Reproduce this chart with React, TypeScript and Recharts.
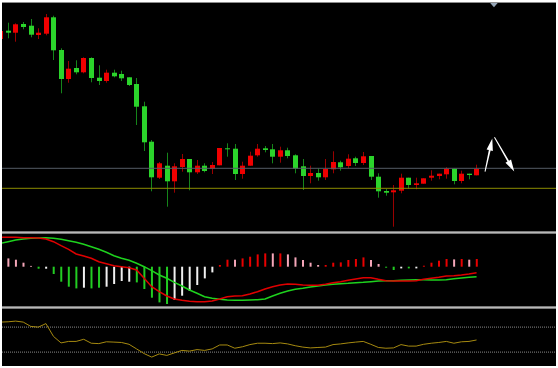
import React from 'react';
import { ComposedChart, Bar, Line, XAxis, YAxis, ReferenceLine, ReferenceDot, Cell } from 'recharts';

// ---- price candles (bar index 0..63) ----
const opens = [201, 209.3, 207.3, 216, 214.3, 205, 206.3, 222.7, 190, 161, 172, 167.7, 182, 162.3, 159, 167.3, 166, 162.7, 156, 133.7, 98.3, 62.3, 74.3, 58.7, 73, 81, 67.7, 74.3, 71.3, 74.7, 91.7, 91.3, 66, 74.3, 84.7, 91.7, 90.7, 83.3, 89.7, 84.7, 73.7, 64, 67, 62.7, 70.7, 77.7, 74, 81.7, 77, 84, 63.3, 49, 47.7, 49.3, 62.3, 55, 56.3, 62.3, 64, 65.7, 71.3, 59, 66.3, 64.7];
const highs = [211, 217.3, 216.7, 218, 221, 211.7, 226, 224.3, 191.7, 179, 179.7, 182.7, 182.7, 174.7, 170.3, 170.3, 169.3, 162.7, 162, 138.3, 100, 78, 87.3, 76.7, 86, 81, 80, 76.7, 78, 92, 96.7, 96, 78.3, 88.3, 96, 94, 96, 93.3, 92.3, 85.7, 81, 74.3, 71.7, 81, 88.7, 79.3, 85.7, 83.3, 88, 84, 66.7, 51, 55, 66.3, 62.3, 62.3, 61.7, 69.7, 66.3, 72.7, 71.3, 69.3, 66.3, 75.3];
const lows = [199, 201.7, 198.3, 210.7, 202.7, 201, 204.7, 180, 146.7, 157.3, 165.7, 166.7, 157.7, 155, 157.3, 162.7, 159, 154, 115, 89, 48.7, 61, 33.3, 47.3, 68.3, 49.7, 66, 67.7, 66, 74.7, 83.3, 60, 61.3, 74.3, 83.3, 87.7, 76.7, 77.3, 81.7, 66.7, 50, 56.7, 59.3, 60, 66.7, 69.3, 71.7, 74, 75, 60, 42.3, 44.3, 13.3, 46.7, 51.3, 50.7, 56.3, 59.3, 60.7, 61.3, 55.7, 56.7, 60.7, 64.7];
const closes = [209, 207.3, 215.7, 213, 205.3, 207.3, 222.7, 189.7, 161, 171.3, 167.7, 182, 162, 159, 167.3, 163.7, 161.7, 155, 133.3, 97.7, 62.7, 76.7, 58.7, 73.7, 81, 67.7, 74.3, 69, 75, 92, 91, 66, 74.3, 84.3, 91.3, 90, 83.3, 89.7, 84, 71.3, 64, 67, 62.7, 71, 78, 72.7, 81.3, 77, 83.7, 63.3, 48.7, 47.3, 49.7, 62.3, 55, 56.7, 61.7, 64.3, 66.3, 71.3, 59, 66.3, 65, 71.3];

// horizontal price levels
const levelGray = 71.7;
const levelYellow = 51.7;

// ---- MACD-style panel ----
const macdMain = [29.4, 29.4, 29.4, 29.0, 29.0, 28.7, 27.7, 25.0, 21.0, 17.4, 12.7, 10.7, 8.4, 5.0, 3.0, 1.0, 0, -1.0, -3.3, -11.6, -20.0, -25.0, -29.3, -32.3, -33.6, -34.6, -35.0, -35.0, -34.3, -32.3, -30.0, -29.3, -29.0, -27.3, -25.0, -22.3, -20.0, -18.3, -17.3, -17.6, -18.3, -18.6, -18.6, -17.6, -16.0, -15.0, -13.6, -12.3, -11.0, -11.0, -12.6, -14.0, -14.3, -14.3, -14.3, -14.0, -12.6, -11.6, -10.6, -9.3, -9.0, -8.3, -7.3, -6.0];
const macdSignal = [23.4, 25.0, 26.7, 27.7, 28.4, 28.7, 29.0, 28.4, 27.4, 26.0, 24.4, 22.4, 20.0, 17.4, 14.4, 11.0, 8.4, 6.4, 3.4, 0, -4.0, -8.3, -11.6, -15.6, -19.3, -23.3, -26.6, -30.0, -31.6, -32.6, -33.3, -33.6, -33.6, -33.3, -33.0, -32.3, -29.3, -26.6, -24.3, -22.6, -21.6, -20.3, -19.3, -18.3, -17.6, -17.0, -16.6, -16.0, -15.6, -15.0, -14.3, -14.0, -14.0, -13.6, -13.3, -13.0, -13.0, -13.3, -13.3, -13.0, -12.0, -11.3, -10.6, -10.0];
const macdHist = [9, 8.3, 7, 4, 0.8, -2, -2, -7.3, -15, -20, -21.7, -21, -21.7, -21, -20, -17.3, -14.3, -15, -15.7, -22.3, -31, -35.7, -37.3, -33.3, -29, -24.3, -18.3, -11.7, -5.7, 1.7, 7, 7, 8.3, 10, 12.3, 13.3, 13.3, 13.3, 12.3, 9.3, 6.7, 4, 1.7, 1.7, 4, 4.3, 6.7, 7.7, 9.3, 6.7, 2.7, -1, -3.3, -1.7, -1.7, -1.7, 1, 4, 6, 7.7, 7.3, 7.7, 7, 7.7];
const histTone = ['p', 'p', 'p', 'p', 'p', 'g', 'w', 'g', 'g', 'g', 'g', 'w', 'g', 'g', 'w', 'w', 'w', 'w', 'g', 'g', 'g', 'g', 'g', 'w', 'w', 'w', 'w', 'w', 'w', 'r', 'r', 'p', 'r', 'r', 'r', 'r', 'p', 'r', 'p', 'p', 'p', 'p', 'p', 'r', 'r', 'r', 'r', 'r', 'r', 'p', 'p', 'g', 'g', 'w', 'g', 'w', 'r', 'r', 'r', 'r', 'p', 'r', 'p', 'r'];

// ---- oscillator panel ----
const rsi = [78.0, 78.5, 79.6, 78.0, 71.1, 70.0, 75.6, 55.1, 44.7, 47.1, 47.1, 50.5, 44.2, 43.6, 46.5, 46.0, 45.4, 42.5, 35.1, 27.6, 22.0, 27.1, 24.7, 28.7, 32.7, 31.6, 34.0, 32.7, 35.1, 41.4, 41.4, 36.2, 38.5, 42.0, 44.2, 44.2, 43.6, 44.7, 43.1, 40.2, 38.0, 36.7, 37.4, 38.0, 42.0, 43.1, 44.7, 46.0, 47.1, 42.5, 37.4, 36.2, 36.7, 42.0, 39.6, 39.6, 42.5, 44.2, 45.4, 47.1, 44.2, 46.5, 47.1, 49.4];
const rsiLevels = [70, 30];

// annotation arrows (bar index, price)
const arrowUp = [{ x: 64.12, y: 68.3 }, { x: 65.08, y: 101.5 }];
const arrowDown = [{ x: 65.37, y: 102.7 }, { x: 67.99, y: 68.5 }];
const shiftMark = { x: 65.3, y: 235.3 };

const X_DOMAIN: [number, number] = [0.1853, 73.514];
const PRICE_DOMAIN: [number, number] = [9, 237];
const MACD_DOMAIN: [number, number] = [-39.3, 32.7];
const RSI_DOMAIN: [number, number] = [7.76, 98.96];

const toneColor: Record<string, string> = { r: '#e80000', p: '#f4a6b8', g: '#22cc22', w: '#f0f0f0' };

const data = opens.map((o, i) => ({
  i,
  open: o,
  high: highs[i],
  low: lows[i],
  close: closes[i],
  hist: macdHist[i],
  macd: macdMain[i],
  signal: macdSignal[i],
  rsi: rsi[i],
}));

const Candle = (props: any) => {
  const { x, y, width, height, payload } = props;
  if (x == null || y == null) return null;
  const top = Math.min(y, y + height);
  const h = Math.abs(height);
  const { open, close, high, low } = payload;
  const ratio = high - low > 0 ? h / (high - low) : 0;
  const yOf = (v: number) => top + (high - v) * ratio;
  const cx = Math.round(x + width / 2) + 0.5;
  const bull = close >= open;
  const body = bull ? '#f00000' : '#2bd42b';
  const wick = bull ? '#9a0000' : '#15851a';
  const bTop = yOf(Math.max(open, close));
  const bBot = yOf(Math.min(open, close));
  const bh = Math.max(1, bBot - bTop);
  return (
    <g>
      <line x1={cx} x2={cx} y1={top} y2={top + h} stroke={wick} strokeWidth={1} />
      <rect x={cx - 2.5} y={bTop} width={5} height={bh} fill={body} />
    </g>
  );
};

const ArrowShape = (props: any) => {
  const { x1, y1, x2, y2 } = props;
  const dx = x2 - x1;
  const dy = y2 - y1;
  const len = Math.hypot(dx, dy) || 1;
  const ux = dx / len;
  const uy = dy / len;
  const px = -uy;
  const py = ux;
  const headLen = 12;
  const headW = 3.2;
  const bx = x2 - ux * headLen;
  const by = y2 - uy * headLen;
  const pts = [
    [x2, y2],
    [bx + px * headW, by + py * headW],
    [bx + px * 0.9, by + py * 0.9],
    [x1 + px * 0.5, y1 + py * 0.5],
    [x1 - px * 0.5, y1 - py * 0.5],
    [bx - px * 0.9, by - py * 0.9],
    [bx - px * headW, by - py * headW],
  ]
    .map((p) => p.join(','))
    .join(' ');
  return <polygon points={pts} fill="#ffffff" />;
};

const ShiftTriangle = (props: any) => {
  const { cx, cy } = props;
  if (cx == null || cy == null) return null;
  return <polygon points={`${cx - 4},${cy - 2} ${cx + 4},${cy - 2} ${cx},${cy + 2.5}`} fill="#95a5b6" />;
};

const Band = ({ top }: { top: number }) => (
  <div style={{ position: 'absolute', left: 2, top, width: 554, height: 3 }}>
    <div style={{ height: 1, background: '#7a7a7a' }} />
    <div style={{ height: 1, background: '#b8b8b8' }} />
    <div style={{ height: 1, background: '#7a7a7a' }} />
  </div>
);

const margin = { top: 0, right: 0, bottom: 0, left: 0 };

export default function App() {
  return (
    <div style={{ position: 'absolute', left: 0, top: 0, width: 558, height: 368, background: '#ffffff', overflow: 'hidden' }}>
      <div style={{ position: 'absolute', left: 2, top: 2, width: 554, height: 364, background: '#000000' }} />
      <div style={{ position: 'absolute', left: 2, top: 2, width: 554, height: 1, background: '#8c8c8c' }} />

      <div style={{ position: 'absolute', left: 2, top: 3 }}>
        <ComposedChart width={554} height={228} data={data} margin={margin}>
          <XAxis type="number" dataKey="i" domain={X_DOMAIN} allowDataOverflow hide />
          <YAxis type="number" domain={PRICE_DOMAIN} allowDataOverflow hide />
          <ReferenceLine y={levelGray} stroke="#545c66" strokeWidth={1} />
          <ReferenceLine y={levelYellow} stroke="#8c8c00" strokeWidth={1} />
          <Bar dataKey={(d: any) => [d.low, d.high]} barSize={5} shape={Candle} isAnimationActive={false} />
          <ReferenceLine segment={arrowUp} shape={ArrowShape} ifOverflow="visible" />
          <ReferenceLine segment={arrowDown} shape={ArrowShape} ifOverflow="visible" />
          <ReferenceDot x={shiftMark.x} y={shiftMark.y} shape={ShiftTriangle} ifOverflow="visible" />
        </ComposedChart>
      </div>

      <Band top={231} />

      <div style={{ position: 'absolute', left: 2, top: 234 }}>
        <ComposedChart width={554} height={72} data={data} margin={margin}>
          <XAxis type="number" dataKey="i" domain={X_DOMAIN} allowDataOverflow hide />
          <YAxis type="number" domain={MACD_DOMAIN} allowDataOverflow hide />
          <Bar dataKey="hist" barSize={2} isAnimationActive={false}>
            {data.map((d, k) => (
              <Cell key={k} fill={toneColor[histTone[k]]} />
            ))}
          </Bar>
          <Line type="linear" dataKey="signal" stroke="#1ed21e" strokeWidth={1.5} dot={false} isAnimationActive={false} />
          <Line type="linear" dataKey="macd" stroke="#e00000" strokeWidth={1.5} dot={false} isAnimationActive={false} />
        </ComposedChart>
      </div>

      <Band top={306} />

      <div style={{ position: 'absolute', left: 2, top: 309 }}>
        <ComposedChart width={554} height={57} data={data} margin={margin}>
          <XAxis type="number" dataKey="i" domain={X_DOMAIN} allowDataOverflow hide />
          <YAxis type="number" domain={RSI_DOMAIN} allowDataOverflow hide />
          {rsiLevels.map((lv) => (
            <ReferenceLine key={lv} y={lv} stroke="#8a8a8a" strokeDasharray="1 1" strokeWidth={1} />
          ))}
          <Line type="linear" dataKey="rsi" stroke="#a68a10" strokeWidth={1} dot={false} isAnimationActive={false} />
        </ComposedChart>
      </div>
    </div>
  );
}
